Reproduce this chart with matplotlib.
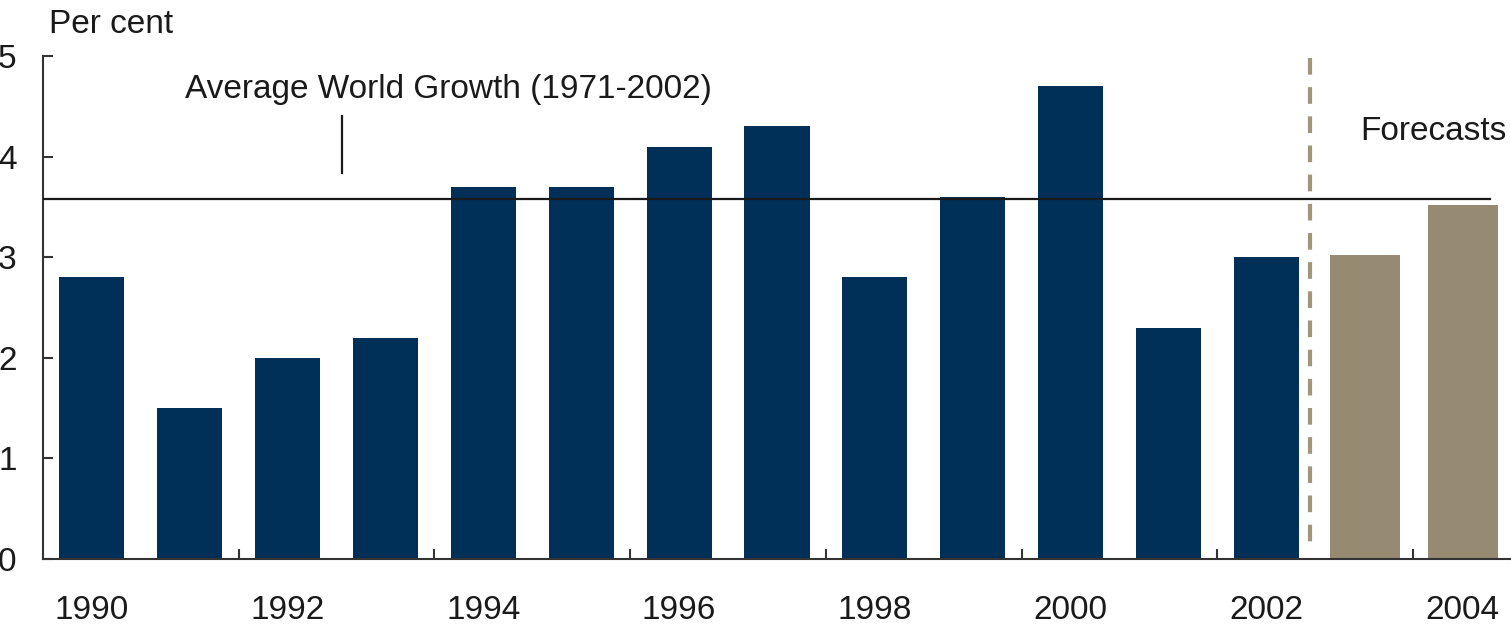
import numpy as np
import matplotlib
matplotlib.use('Agg')
import matplotlib.pyplot as plt
from matplotlib.ticker import FixedLocator

plt.rcParams['font.family'] = ['Liberation Sans', 'DejaVu Sans']

# данные
years = [1990, 1991, 1992, 1993, 1994, 1995, 1996, 1997, 1998, 1999, 2000, 2001, 2002]
growth = [2.8, 1.5, 2.0, 2.2, 3.7, 3.7, 4.1, 4.3, 2.8, 3.6, 4.7, 2.3, 3.0]
fc_years = [2003, 2004]
fc_growth = [3.0, 3.5]
avg_growth = 3.58
xtick_years = [1990, 1992, 1994, 1996, 1998, 2000, 2002, 2004]

navy = '#002F57'
taupe = '#968A72'
txt = '#1a1a1a'

fig = plt.figure(figsize=(15.11, 6.3), dpi=100)
ax = fig.add_axes([43 / 1511, (630 - 559) / 630, 1468 / 1511, 503 / 630])

ax.bar(years, growth, width=0.665, color=navy, zorder=2)
ax.bar(fc_years, fc_growth, width=0.665, color=taupe, edgecolor=taupe, linewidth=3.6, zorder=2)

# средний рост
ax.axhline(avg_growth, xmin=0, xmax=0.986, color=txt, linewidth=1.6, zorder=3)
# граница прогноза (рисуем сверху вниз, чтобы штрих начинался у верха)
ax.plot([2002.45, 2002.45], [4.98, 0.1], color='#A09679', linewidth=3, dashes=(4, 3), zorder=3)

ax.text(1990.95, 4.58, 'Average World Growth (1971-2002)', fontsize=24, ha='left', va='baseline', color=txt)
ax.plot([1992.56, 1992.56], [3.84, 4.40], color=txt, linewidth=1.6)
ax.text(2002.955, 4.165, 'Forecasts', fontsize=24, ha='left', va='baseline', color=txt)
fig.text(49 / 1511, (630 - 33) / 630, 'Per cent', fontsize=24, ha='left', va='baseline', color=txt)

ax.set_xlim(1989.5, 2004.5)
ax.set_ylim(0, 5)

ax.set_xticks(xtick_years)
ax.set_xticklabels([str(y) for y in xtick_years])
ax.xaxis.set_minor_locator(FixedLocator(np.arange(1991.5, 2004, 2)))
ax.tick_params(axis='x', which='major', length=0, pad=26, labelsize=24, labelcolor=txt)
ax.tick_params(axis='x', which='minor', direction='in', length=7, width=1.5, color='#333333')

ax.set_yticks([0, 1, 2, 3, 4, 5])
ax.tick_params(axis='y', direction='in', length=7, width=1.5, color='#333333', pad=19,
               labelsize=24, labelcolor=txt)

for s in ['top', 'right']:
    ax.spines[s].set_visible(False)
for s in ['left', 'bottom']:
    ax.spines[s].set_linewidth(1.5)
    ax.spines[s].set_color('#333333')

fig.savefig('out.png', dpi=100)
